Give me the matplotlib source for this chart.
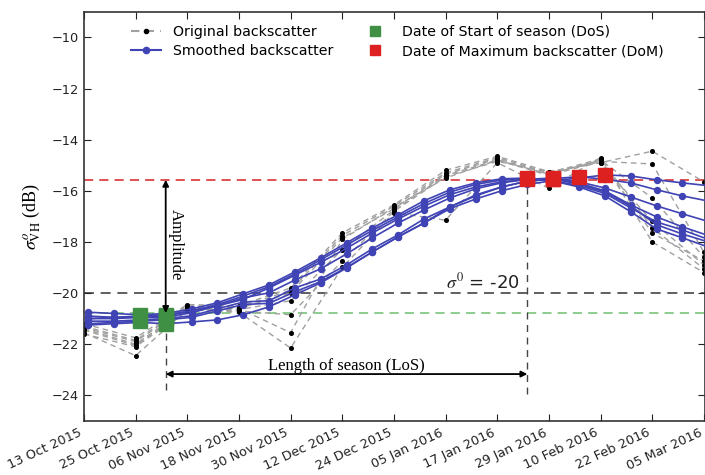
import numpy as np
import pandas as pd
import matplotlib
matplotlib.use("Agg")
import matplotlib.pyplot as plt
import matplotlib.dates as mdates
from matplotlib.lines import Line2D

plt.rcParams["mathtext.fontset"] = "stix"

# smoothed series: one value every 6 days starting 14 Oct 2015
smooth_dates = pd.date_range("2015-10-14", periods=25, freq="6D")
smoothed = [
    [-20.75, -20.80, -20.85, -20.80, -20.62, -20.38, -20.03, -19.68, -19.17, -18.62, -18.04, -17.45, -16.94,
     -16.39, -15.96, -15.69, -15.53, -15.50, -15.60, -15.80, -16.10, -16.67, -17.22, -17.53, -17.90],
    [-20.90, -20.95, -20.95, -20.90, -20.70, -20.45, -20.12, -19.75, -19.25, -18.70, -18.12, -17.55, -17.02,
     -16.50, -16.05, -15.75, -15.58, -15.52, -15.62, -15.85, -16.20, -16.82, -17.49, -17.84, -18.20],
    [-21.00, -21.00, -20.95, -20.95, -20.77, -20.50, -20.19, -19.99, -19.49, -19.05, -18.47, -17.84, -17.26,
     -16.75, -16.28, -15.92, -15.69, -15.55, -15.50, -15.65, -15.89, -16.24, -16.59, -16.90, -17.20],
    [-21.10, -21.10, -21.05, -21.00, -20.89, -20.62, -20.35, -20.30, -19.80, -19.45, -18.90, -18.27, -17.72,
     -17.10, -16.63, -16.16, -15.85, -15.62, -15.52, -15.45, -15.55, -15.69, -15.96, -16.20, -16.40],
    [-21.20, -21.15, -21.10, -21.05, -20.95, -20.70, -20.45, -20.40, -19.95, -19.55, -19.00, -18.39, -17.80,
     -17.26, -16.70, -16.32, -16.00, -15.75, -15.60, -15.50, -15.38, -15.42, -15.57, -15.69, -15.80],
    [-21.25, -21.20, -21.15, -21.20, -21.13, -21.05, -20.85, -20.54, -20.07, -19.60, -19.02, -18.39, -17.80,
     -17.26, -16.63, -16.20, -15.85, -15.62, -15.55, -15.70, -16.00, -16.55, -17.02, -17.41, -17.75],
    [-21.00, -20.95, -20.90, -20.85, -20.70, -20.50, -20.25, -19.80, -19.30, -18.80, -18.25, -17.65, -17.10,
     -16.60, -16.15, -15.85, -15.65, -15.55, -15.52, -15.75, -16.04, -16.60, -17.33, -17.69, -18.00],
]

# original acquisitions every 12 days starting 13 Oct 2015
orig_dates = pd.date_range("2015-10-13", periods=13, freq="12D")
original = [
    [-21.20, -21.75, -20.45, -20.50, -19.80, -17.65, -16.55, -15.20, -14.65, -15.25, -14.90, -17.20, -18.90],
    [-21.30, -21.85, -20.50, -20.55, -19.90, -17.75, -16.60, -15.30, -14.70, -15.30, -14.75, -17.45, -19.05],
    [-21.35, -21.90, -20.55, -20.60, -20.00, -17.85, -16.70, -15.35, -14.75, -15.35, -14.80, -16.28, -18.60],
    [-21.40, -22.00, -20.60, -20.65, -20.30, -18.30, -16.75, -15.40, -14.80, -15.40, -14.85, -14.95, -18.40],
    [-21.45, -22.05, -20.65, -20.70, -20.85, -18.75, -16.80, -15.45, -14.85, -15.25, -14.90, -14.45, -15.65],
    [-21.55, -22.45, -20.65, -20.75, -22.15, -19.00, -16.85, -17.15, -14.90, -15.90, -14.70, -18.00, -19.20],
    [-21.60, -22.10, -20.70, -20.60, -21.55, -17.90, -16.65, -15.50, -14.80, -15.35, -14.80, -17.65, -18.75],
]

# index (into smooth_dates) of start of season and of maximum backscatter per series
dos_idx = [2, 3, 3, 3, 2, 3, 3]
dom_idx = [17, 17, 18, 19, 20, 18, 18]

dos_level = -20.78
dom_level = -15.57
threshold = -20.0
season_start = pd.Timestamp("2015-11-01")
season_peak = pd.Timestamp("2016-01-24")

tick_dates = pd.date_range("2015-10-13", periods=13, freq="12D")

blue = "#3f43b4"
green = "#3f8f45"
red = "#dd2020"

fig = plt.figure(figsize=(7.05, 4.75), dpi=100)
ax = fig.add_axes([0.119, 0.114, 0.881, 0.861])

for vals in original:
    ax.plot(orig_dates, vals, color="#a0a0a0", ls="--", lw=1.0, dashes=(4, 3), zorder=1)
    ax.plot(orig_dates, vals, "o", color="k", ms=2.6, zorder=2)

for vals in smoothed:
    ax.plot(smooth_dates, vals, "-o", color=blue, lw=1.2, ms=4.3, zorder=3)

for vals, i in zip(smoothed, dos_idx):
    ax.plot(smooth_dates[i], vals[i], "s", color=green, ms=10, zorder=5)
for vals, i in zip(smoothed, dom_idx):
    ax.plot(smooth_dates[i], vals[i], "s", color=red, ms=10, zorder=5)

# reference levels
ax.axhline(dom_level, color="#d62020", ls="--", lw=1.1, dashes=(6, 4), zorder=0)
ax.axhline(dos_level, color="#6fbf6f", ls="--", lw=1.1, dashes=(6, 4), zorder=0)
ax.axhline(threshold, color="#444444", ls="--", lw=1.2, dashes=(6, 4), zorder=0)

ax.plot([season_start, season_start], [-23.8, dos_level], color="#444444", ls="--", lw=1.0, dashes=(5, 4), zorder=0)
ax.plot([season_peak, season_peak], [-23.95, dom_level], color="#444444", ls="--", lw=1.0, dashes=(5, 4), zorder=0)

arrow = dict(arrowstyle="<|-|>", color="k", lw=1.3, mutation_scale=9, shrinkA=0, shrinkB=0)
ax.annotate("", xy=(season_start, dom_level), xytext=(season_start, dos_level), arrowprops=arrow, zorder=6)
ax.annotate("", xy=(season_start, -23.17), xytext=(season_peak, -23.17), arrowprops=arrow, zorder=6)

serif = "Liberation Serif"
ax.text(season_start + pd.Timedelta(days=0.6), -18.1, "Amplitude", rotation=270, family=serif,
        fontsize=12, ha="left", va="center")
ax.text(pd.Timestamp("2015-12-13"), -22.85, "Length of season (LoS)", family=serif,
        fontsize=12, ha="center", va="center")
ax.text(pd.Timestamp("2016-01-05"), -19.97, r"$\sigma^0$" + " = -20", fontsize=13,
        ha="left", va="bottom", color="#222222")

ax.set_ylim(-25, -9)
ax.set_yticks(np.arange(-24, -9, 2))
ax.set_yticklabels([f"\u2212{abs(v)}" for v in range(-24, -9, 2)])
ax.set_xlim(pd.Timestamp("2015-10-13"), pd.Timestamp("2016-03-05 06:00"))
ax.set_xticks(tick_dates)
ax.xaxis.set_major_formatter(mdates.DateFormatter("%d %b %Y"))
plt.setp(ax.get_xticklabels(), rotation=25, ha="right")

ax.tick_params(direction="in", top=True, right=True, length=5, labelsize=9.3, colors="#222222")
ax.tick_params(axis="x", pad=4)
for s in ax.spines.values():
    s.set_color("#333333")
    s.set_linewidth(1.2)

ax.set_ylabel(r"$\sigma^{o}_{\rm VH}$ (dB)", family=serif, fontsize=13, labelpad=6)

handles = [
    Line2D([], [], color="#a0a0a0", ls="--", dashes=(4, 3), marker="o", mfc="k", mec="k", ms=3),
    Line2D([], [], color=blue, marker="o", ms=4.5),
    Line2D([], [], ls="none", marker="s", color=green, ms=7.5),
    Line2D([], [], ls="none", marker="s", color=red, ms=7.5),
]
labels = ["Original backscatter", "Smoothed backscatter",
          "Date of Start of season (DoS)", "Date of Maximum backscatter (DoM)"]
ax.legend(handles, labels, ncol=2, loc="upper left", bbox_to_anchor=(0.055, 1.0), frameon=False,
          fontsize=10.2, columnspacing=1.9, handlelength=2.1, handletextpad=0.85, labelspacing=0.4)

fig.savefig("out.png", dpi=100)
